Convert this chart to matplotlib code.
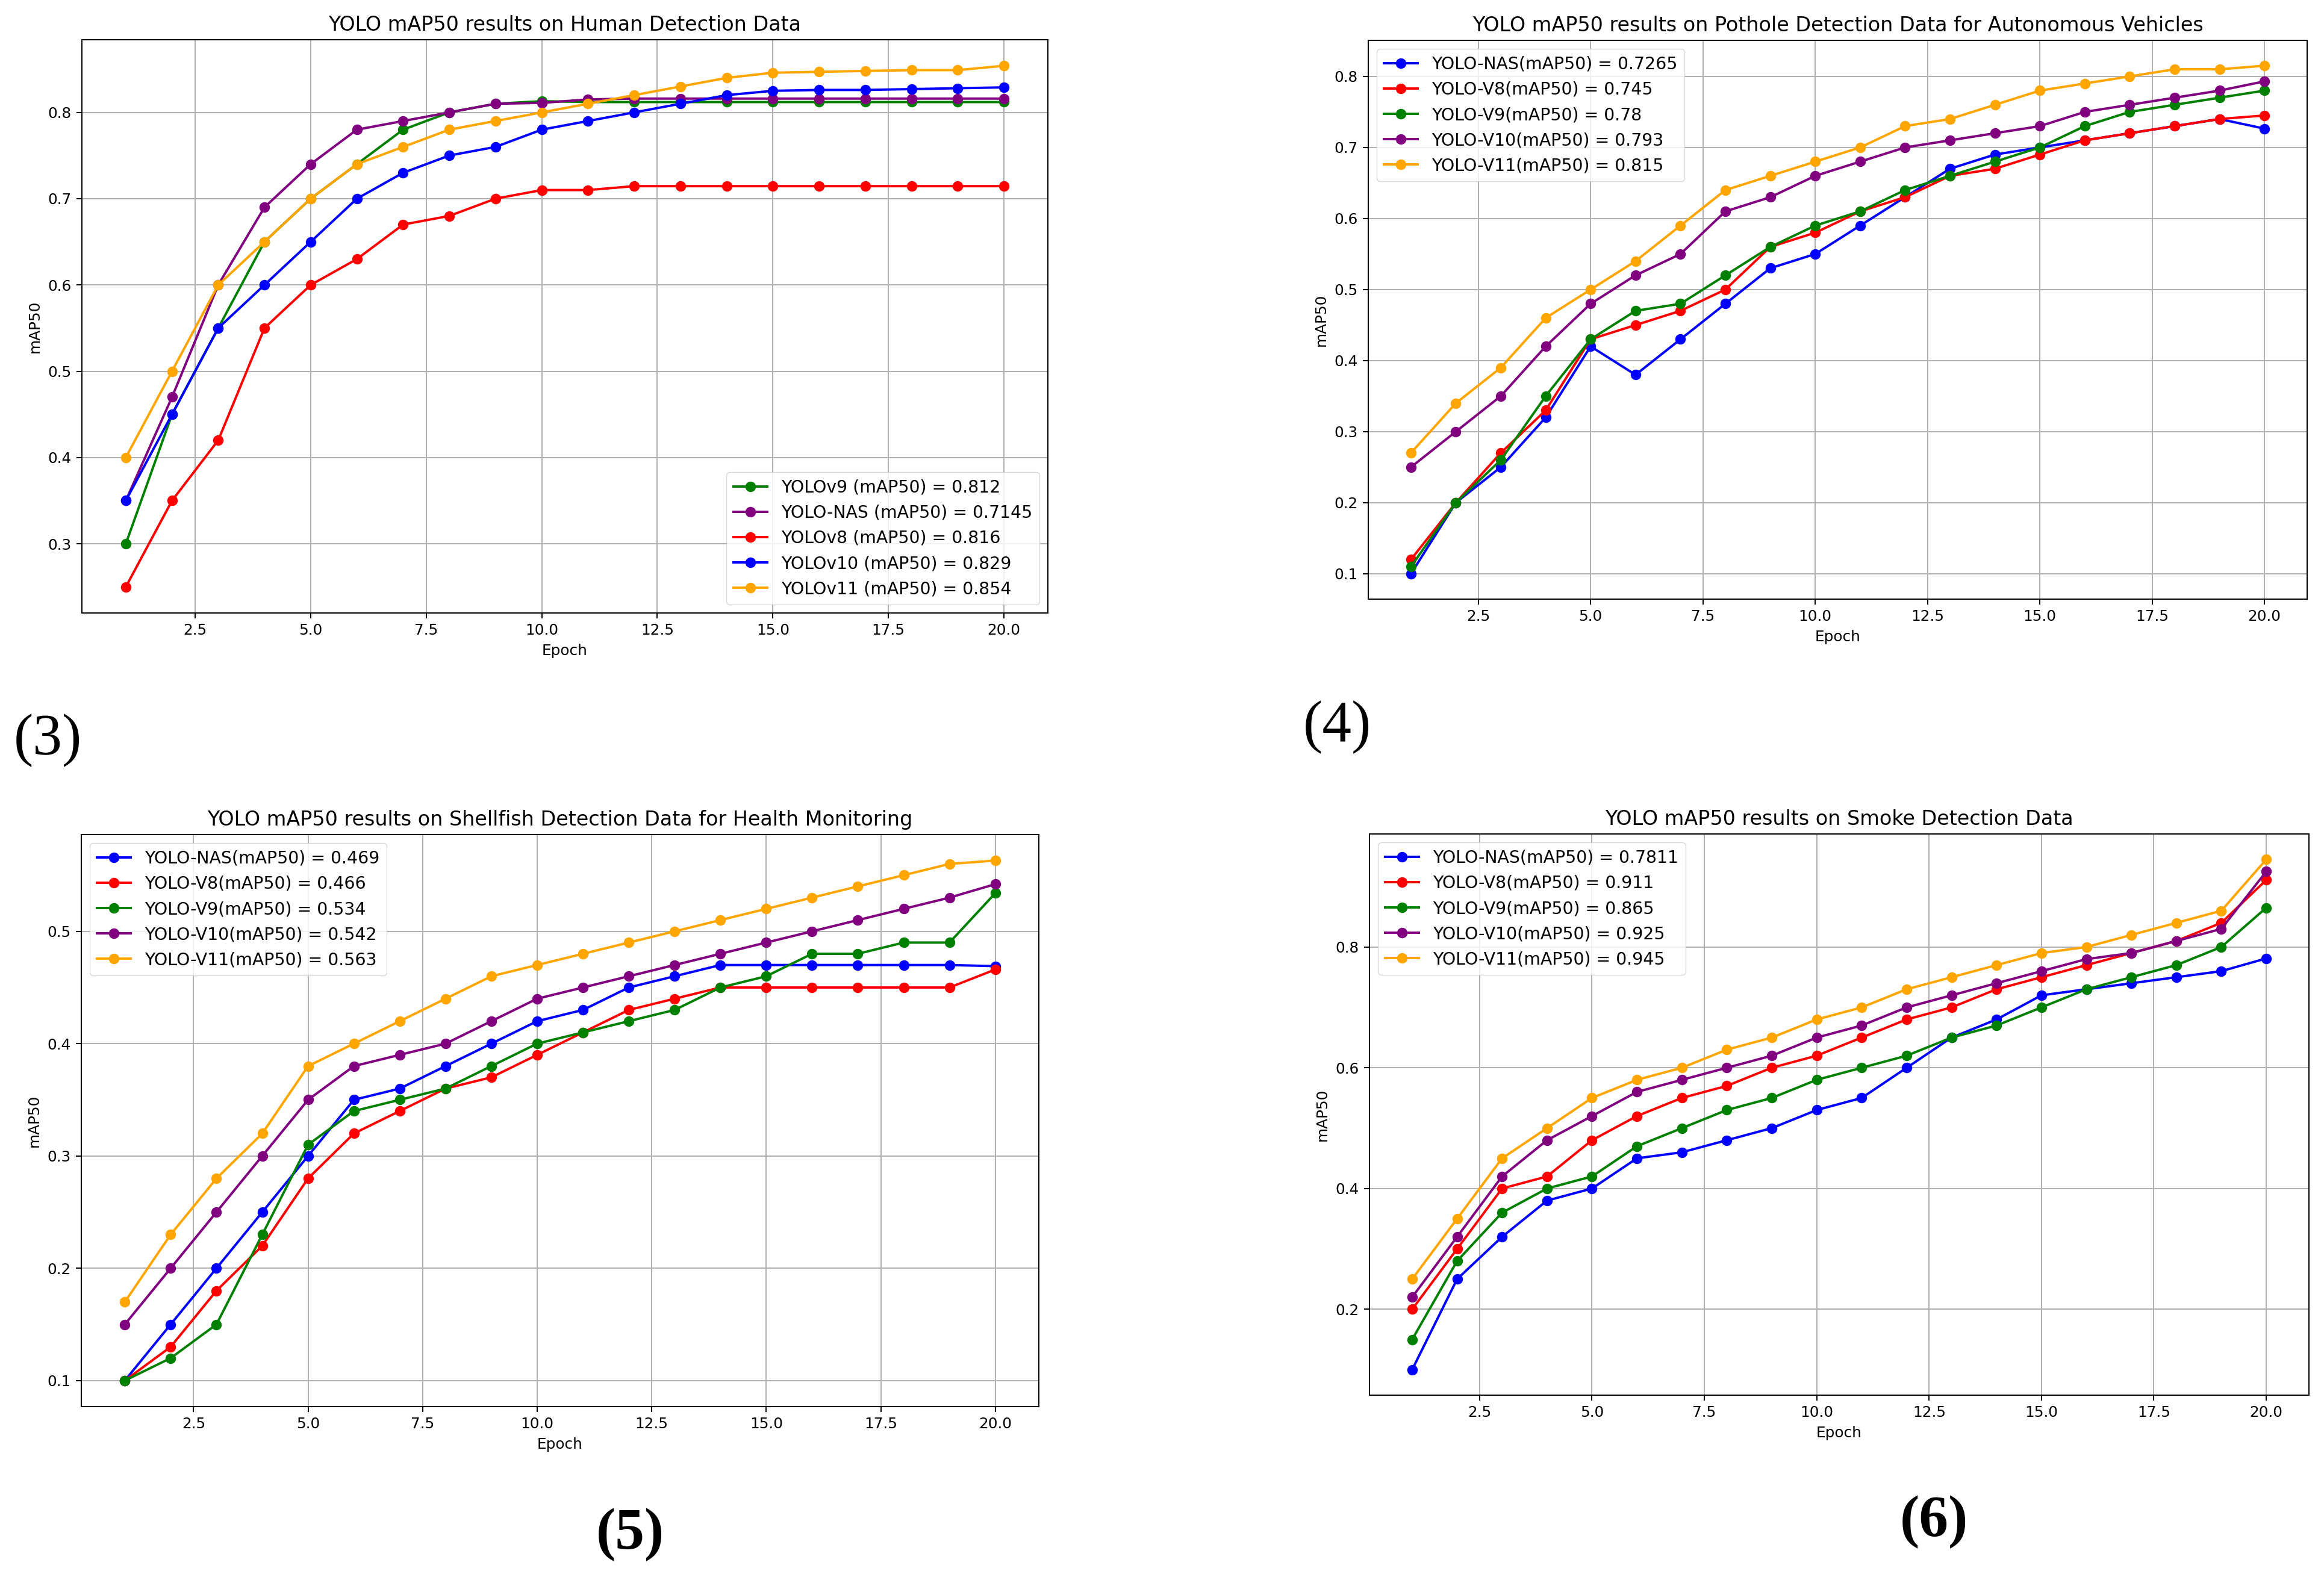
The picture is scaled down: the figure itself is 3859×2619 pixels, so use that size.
import matplotlib
matplotlib.use('Agg')
import matplotlib.pyplot as plt
import numpy as np

# lienzo en píxeles del original
W, H = 3859, 2619
DPI = 100
S = 1.78  # escala respecto al estilo por defecto de matplotlib

plt.rcParams.update({
    'font.family': 'DejaVu Sans',
    'font.size': 10 * S,
    'axes.titlesize': 13.5 * S,
    'axes.labelsize': 10 * S,
    'legend.fontsize': 11.5 * S,
    'lines.linewidth': 1.6 * S,
    'lines.markersize': 6.5 * S,
    'axes.linewidth': 0.8 * S,
    'grid.linewidth': 0.8 * S,
    'xtick.major.width': 0.8 * S,
    'ytick.major.width': 0.8 * S,
    'xtick.major.size': 3.5 * S,
    'ytick.major.size': 3.5 * S,
    'xtick.major.pad': 3.5 * S,
    'ytick.major.pad': 3.5 * S,
    'axes.titlepad': 6 * S,
    'axes.labelpad': 4 * S,
})

epochs = np.arange(1, 21)

# (3) Human detection
human_labels = ['YOLOv9 (mAP50) = 0.812', 'YOLO-NAS (mAP50) = 0.7145', 'YOLOv8 (mAP50) = 0.816',
                'YOLOv10 (mAP50) = 0.829', 'YOLOv11 (mAP50) = 0.854']
human_colors = ['green', 'purple', 'red', 'blue', 'orange']
human_v9 = [0.30, 0.45, 0.55, 0.65, 0.70, 0.74, 0.78, 0.80, 0.81, 0.813,
            0.812, 0.812, 0.812, 0.812, 0.812, 0.812, 0.812, 0.812, 0.812, 0.812]
human_nas = [0.35, 0.47, 0.60, 0.69, 0.74, 0.78, 0.79, 0.80, 0.81, 0.811,
             0.815, 0.816, 0.816, 0.816, 0.816, 0.816, 0.816, 0.816, 0.816, 0.816]
human_v8 = [0.25, 0.35, 0.42, 0.55, 0.60, 0.63, 0.67, 0.68, 0.70, 0.71,
            0.71, 0.7145, 0.7145, 0.7145, 0.7145, 0.7145, 0.7145, 0.7145, 0.7145, 0.7145]
human_v10 = [0.35, 0.45, 0.55, 0.60, 0.65, 0.70, 0.73, 0.75, 0.76, 0.78,
             0.79, 0.80, 0.81, 0.82, 0.825, 0.826, 0.826, 0.827, 0.828, 0.829]
human_v11 = [0.40, 0.50, 0.60, 0.65, 0.70, 0.74, 0.76, 0.78, 0.79, 0.80,
             0.81, 0.82, 0.83, 0.84, 0.846, 0.847, 0.848, 0.849, 0.849, 0.854]

# (4) Pothole detection
pothole_labels = ['YOLO-NAS(mAP50) = 0.7265', 'YOLO-V8(mAP50) = 0.745', 'YOLO-V9(mAP50) = 0.78',
                  'YOLO-V10(mAP50) = 0.793', 'YOLO-V11(mAP50) = 0.815']
pothole_nas = [0.10, 0.20, 0.25, 0.32, 0.42, 0.38, 0.43, 0.48, 0.53, 0.55,
               0.59, 0.63, 0.67, 0.69, 0.70, 0.71, 0.72, 0.73, 0.74, 0.7265]
pothole_v8 = [0.12, 0.20, 0.27, 0.33, 0.43, 0.45, 0.47, 0.50, 0.56, 0.58,
              0.61, 0.63, 0.66, 0.67, 0.69, 0.71, 0.72, 0.73, 0.74, 0.745]
pothole_v9 = [0.11, 0.20, 0.26, 0.35, 0.43, 0.47, 0.48, 0.52, 0.56, 0.59,
              0.61, 0.64, 0.66, 0.68, 0.70, 0.73, 0.75, 0.76, 0.77, 0.78]
pothole_v10 = [0.25, 0.30, 0.35, 0.42, 0.48, 0.52, 0.55, 0.61, 0.63, 0.66,
               0.68, 0.70, 0.71, 0.72, 0.73, 0.75, 0.76, 0.77, 0.78, 0.793]
pothole_v11 = [0.27, 0.34, 0.39, 0.46, 0.50, 0.54, 0.59, 0.64, 0.66, 0.68,
               0.70, 0.73, 0.74, 0.76, 0.78, 0.79, 0.80, 0.81, 0.81, 0.815]

# (5) Shellfish detection
shell_labels = ['YOLO-NAS(mAP50) = 0.469', 'YOLO-V8(mAP50) = 0.466', 'YOLO-V9(mAP50) = 0.534',
                'YOLO-V10(mAP50) = 0.542', 'YOLO-V11(mAP50) = 0.563']
shell_nas = [0.10, 0.15, 0.20, 0.25, 0.30, 0.35, 0.36, 0.38, 0.40, 0.42,
             0.43, 0.45, 0.46, 0.47, 0.47, 0.47, 0.47, 0.47, 0.47, 0.469]
shell_v8 = [0.10, 0.13, 0.18, 0.22, 0.28, 0.32, 0.34, 0.36, 0.37, 0.39,
            0.41, 0.43, 0.44, 0.45, 0.45, 0.45, 0.45, 0.45, 0.45, 0.466]
shell_v9 = [0.10, 0.12, 0.15, 0.23, 0.31, 0.34, 0.35, 0.36, 0.38, 0.40,
            0.41, 0.42, 0.43, 0.45, 0.46, 0.48, 0.48, 0.49, 0.49, 0.534]
shell_v10 = [0.15, 0.20, 0.25, 0.30, 0.35, 0.38, 0.39, 0.40, 0.42, 0.44,
             0.45, 0.46, 0.47, 0.48, 0.49, 0.50, 0.51, 0.52, 0.53, 0.542]
shell_v11 = [0.17, 0.23, 0.28, 0.32, 0.38, 0.40, 0.42, 0.44, 0.46, 0.47,
             0.48, 0.49, 0.50, 0.51, 0.52, 0.53, 0.54, 0.55, 0.56, 0.563]

# (6) Smoke detection
smoke_labels = ['YOLO-NAS(mAP50) = 0.7811', 'YOLO-V8(mAP50) = 0.911', 'YOLO-V9(mAP50) = 0.865',
                'YOLO-V10(mAP50) = 0.925', 'YOLO-V11(mAP50) = 0.945']
smoke_nas = [0.10, 0.25, 0.32, 0.38, 0.40, 0.45, 0.46, 0.48, 0.50, 0.53,
             0.55, 0.60, 0.65, 0.68, 0.72, 0.73, 0.74, 0.75, 0.76, 0.7811]
smoke_v8 = [0.20, 0.30, 0.40, 0.42, 0.48, 0.52, 0.55, 0.57, 0.60, 0.62,
            0.65, 0.68, 0.70, 0.73, 0.75, 0.77, 0.79, 0.81, 0.84, 0.911]
smoke_v9 = [0.15, 0.28, 0.36, 0.40, 0.42, 0.47, 0.50, 0.53, 0.55, 0.58,
            0.60, 0.62, 0.65, 0.67, 0.70, 0.73, 0.75, 0.77, 0.80, 0.865]
smoke_v10 = [0.22, 0.32, 0.42, 0.48, 0.52, 0.56, 0.58, 0.60, 0.62, 0.65,
             0.67, 0.70, 0.72, 0.74, 0.76, 0.78, 0.79, 0.81, 0.83, 0.925]
smoke_v11 = [0.25, 0.35, 0.45, 0.50, 0.55, 0.58, 0.60, 0.63, 0.65, 0.68,
             0.70, 0.73, 0.75, 0.77, 0.79, 0.80, 0.82, 0.84, 0.86, 0.945]

other_colors = ['blue', 'red', 'green', 'purple', 'orange']


def px_rect(left, top, right, bottom):
    return [left / W, 1 - bottom / H, (right - left) / W, (bottom - top) / H]


def draw_panel(ax, title, series, labels, colors, legend_loc):
    for y, lab, col in zip(series, labels, colors):
        ax.plot(epochs, y, marker='o', color=col, label=lab)
    ax.set_title(title)
    ax.set_xlabel('Epoch')
    ax.set_ylabel('mAP50')
    ax.grid(True)
    ax.legend(loc=legend_loc)


fig = plt.figure(figsize=(W / DPI, H / DPI), dpi=DPI)

ax3 = fig.add_axes(px_rect(136, 66, 1740, 1018))
draw_panel(ax3, 'YOLO mAP50 results on Human Detection Data',
           [human_v9, human_nas, human_v8, human_v10, human_v11],
           human_labels, human_colors, 'lower right')

ax4 = fig.add_axes(px_rect(2272, 67, 3831, 995))
draw_panel(ax4, 'YOLO mAP50 results on Pothole Detection Data for Autonomous Vehicles',
           [pothole_nas, pothole_v8, pothole_v9, pothole_v10, pothole_v11],
           pothole_labels, other_colors, 'upper left')

ax5 = fig.add_axes(px_rect(135, 1386, 1725, 2336))
draw_panel(ax5, 'YOLO mAP50 results on Shellfish Detection Data for Health Monitoring',
           [shell_nas, shell_v8, shell_v9, shell_v10, shell_v11],
           shell_labels, other_colors, 'upper left')

ax6 = fig.add_axes(px_rect(2274, 1385, 3834, 2317))
draw_panel(ax6, 'YOLO mAP50 results on Smoke Detection Data',
           [smoke_nas, smoke_v8, smoke_v9, smoke_v10, smoke_v11],
           smoke_labels, other_colors, 'upper left')

# etiquetas de panel
serif = 'Liberation Serif'
fig.text(79 / W, 1 - 1230 / H, '(3)', family=serif, fontsize=70, ha='center', va='center')
fig.text(2220 / W, 1 - 1208 / H, '(4)', family=serif, fontsize=70, ha='center', va='center')
fig.text(1046 / W, 1 - 2549 / H, '(5)', family=serif, fontsize=70, fontweight='bold',
         ha='center', va='center')
fig.text(3211 / W, 1 - 2528 / H, '(6)', family=serif, fontsize=70, fontweight='bold',
         ha='center', va='center')

fig.savefig('out.png', dpi=DPI)
plt.close(fig)
